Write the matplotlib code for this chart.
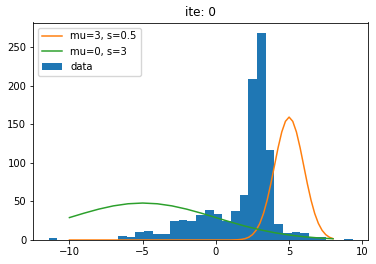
import numpy as np
import matplotlib
matplotlib.use("Agg")
import matplotlib.pyplot as plt

# Histogram: 35 equal bins between data min and max
bin_lo, bin_hi, n_bins = -11.43, 9.33, 35
counts = [2, 0, 0, 0, 0, 0, 0, 0, 5, 4,
          10, 12, 8, 8, 25, 26, 25, 33, 39, 34,
          25, 38, 58, 209, 269, 117, 21, 9, 10, 9,
          4, 4, 0, 0, 1]

# Curve "mu=3, s=0.5" (orange)
orange_x = [-10.0, 1.0, 1.5, 1.75, 2.0, 2.25, 2.5, 2.75, 3.0, 3.25, 3.5, 3.75,
            4.0, 4.25, 4.5, 4.75, 5.0, 5.25, 5.5, 5.75, 6.0, 6.25, 6.5,
            6.75, 7.0, 7.25, 7.5, 7.75, 8.0]
orange_y = [0.0, 0.05, 0.35, 0.81, 1.77, 3.62, 6.99, 12.65, 21.52, 34.39, 51.62, 72.79,
            96.44, 120.0, 140.3, 154.1, 159.6, 154.1, 140.3, 120.0, 96.44, 72.79, 51.62,
            34.39, 21.52, 12.65, 6.99, 3.62, 1.77]

# Curve "mu=0, s=3" (green)
green_x = [-10, -9, -8, -7, -6, -5, -4, -3, -2, -1, 0, 1, 2, 3, 4, 5, 6, 7, 8]
green_y = [29.11, 34.85, 40.09, 44.31, 47.05, 48.0, 47.05, 44.31, 40.09, 34.85,
           29.11, 23.37, 18.01, 13.34, 9.50, 6.50, 4.27, 2.69, 1.63]

title = "ite: 0"
labels = ["mu=3, s=0.5", "mu=0, s=3", "data"]

fs = 7.2
fig = plt.figure(figsize=(3.76, 2.64), dpi=100)
ax = fig.add_axes([33.3 / 376, 24 / 264, (367.7 - 33.3) / 376, (240 - 22.5) / 264])

edges = np.linspace(bin_lo, bin_hi, n_bins + 1)
centers = (edges[:-1] + edges[1:]) / 2
_, _, bars = ax.hist(centers, bins=edges, weights=counts, color="C0", label=labels[2])
l1, = ax.plot(orange_x, orange_y, color="C1", lw=1.08, label=labels[0])
l2, = ax.plot(green_x, green_y, color="C2", lw=1.08, label=labels[1])

ax.set_title(title, fontsize=8.64, pad=4.32)
ax.tick_params(labelsize=fs, length=2.52, width=0.58, pad=2.52)
for s in ax.spines.values():
    s.set_linewidth(0.58)
ax.set_xticks([-10, -5, 0, 5, 10])
ax.set_yticks([0, 50, 100, 150, 200, 250])
ax.legend(handles=[l1, l2, bars[0]], labels=labels, loc="upper left", fontsize=fs)

fig.savefig("out.png", dpi=100)
